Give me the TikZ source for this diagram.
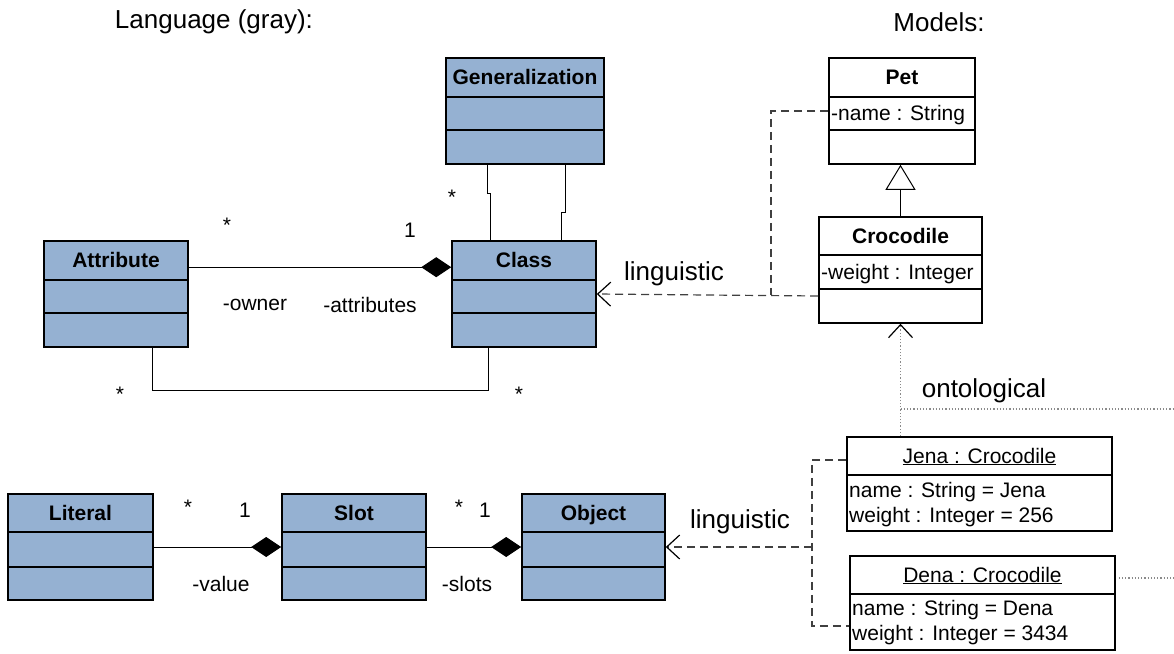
\documentclass[tikz,border=0pt]{standalone}
\usepackage{fontspec}
\setmainfont{Liberation Sans}
\usetikzlibrary{arrows.meta,calc}
\definecolor{umlblue}{HTML}{95B1D2}
\definecolor{dashgray}{HTML}{404040}
\definecolor{dotgray}{HTML}{8A8A8A}
\begin{document}
\begin{tikzpicture}[x=1pt,y=-1pt,
  classbox/.style={draw, line width=1.6pt, rectangle, inner sep=0pt},
  boxline/.style={line width=1.6pt},
  ttl/.style={font=\fontsize{21}{25}\selectfont\bfseries, anchor=base, inner sep=0pt},
  attr/.style={font=\fontsize{21}{25}\selectfont, anchor=base west, inner sep=0pt},
  ttlu/.style={font=\fontsize{21}{25}\selectfont, anchor=base, inner sep=0pt},
  lbl/.style={font=\fontsize{21}{25}\selectfont, inner sep=0pt},
  big/.style={font=\fontsize{26}{30}\selectfont, inner sep=0pt},
  assoc/.style={line width=1pt},
  comp/.style={assoc, -{Diamond[length=30pt,width=20pt]}},
  gen/.style={assoc, -{Triangle[open,length=25pt,width=30pt,fill=white]}},
  lingd/.style={line width=1.2pt, dashgray, dash pattern=on 8pt off 5pt},
  ling/.style={lingd, -{Straight Barb[length=13pt,width=24pt,line width=1.2pt,color=black]}},
  onto/.style={line width=1.2pt, dotgray, dash pattern=on 1.2pt off 2pt}
]
\useasboundingbox (0,0) rectangle (1174,653);

% headers
\node[big] (hlang) at (214,22) {Language (gray):};
\node[big] (hmod) at (939,22) {Models:};

% ---------- language classes ----------
\node[classbox, fill=umlblue, minimum width=158pt, minimum height=106pt] (Gen) at (525,111) {};
\draw[boxline] (Gen.west |- 0,97) -- (Gen.east |- 0,97) (Gen.west |- 0,130) -- (Gen.east |- 0,130);
\node[ttl] at (525,84) {Generalization};

\node[classbox, fill=umlblue, minimum width=144pt, minimum height=106pt] (Class) at (524,294) {};
\draw[boxline] (Class.west |- 0,280) -- (Class.east |- 0,280) (Class.west |- 0,313) -- (Class.east |- 0,313);
\node[ttl] at (524,267) {Class};

\node[classbox, fill=umlblue, minimum width=144pt, minimum height=106pt] (Attribute) at (116,294) {};
\draw[boxline] (Attribute.west |- 0,280) -- (Attribute.east |- 0,280) (Attribute.west |- 0,313) -- (Attribute.east |- 0,313);
\node[ttl] at (116,267) {Attribute};

\node[classbox, fill=umlblue, minimum width=145pt, minimum height=106pt] (Literal) at (80.5,547) {};
\draw[boxline] (Literal.west |- 0,532) -- (Literal.east |- 0,532) (Literal.west |- 0,567) -- (Literal.east |- 0,567);
\node[ttl] at (80.5,520) {Literal};

\node[classbox, fill=umlblue, minimum width=144pt, minimum height=106pt] (Slot) at (354,547) {};
\draw[boxline] (Slot.west |- 0,532) -- (Slot.east |- 0,532) (Slot.west |- 0,567) -- (Slot.east |- 0,567);
\node[ttl] at (354,520) {Slot};

\node[classbox, fill=umlblue, minimum width=143pt, minimum height=106pt] (Object) at (593.5,547) {};
\draw[boxline] (Object.west |- 0,532) -- (Object.east |- 0,532) (Object.west |- 0,567) -- (Object.east |- 0,567);
\node[ttl] at (593.5,520) {Object};

% ---------- model classes ----------
\node[classbox, fill=white, minimum width=146pt, minimum height=106pt] (Pet) at (902,111) {};
\draw[boxline] (Pet.west |- 0,97) -- (Pet.east |- 0,97) (Pet.west |- 0,130) -- (Pet.east |- 0,130);
\node[ttl] at (902,84) {Pet};
\node[attr] at (831,120) {-name : String};

\node[classbox, fill=white, minimum width=163pt, minimum height=106pt] (Crocodile) at (900.5,270) {};
\draw[boxline] (Crocodile.west |- 0,255) -- (Crocodile.east |- 0,255) (Crocodile.west |- 0,289) -- (Crocodile.east |- 0,289);
\node[ttl] at (900.5,243) {Crocodile};
\node[attr] at (821,279) {-weight : Integer};

\node[classbox, fill=white, minimum width=265pt, minimum height=94pt] (Jena) at (979.5,484) {};
\draw[boxline] (Jena.west |- 0,475) -- (Jena.east |- 0,475);
\node[ttlu] at (979.5,463) {\underline{Jena : Crocodile}};
\node[attr] at (849,497) {name : String = Jena};
\node[attr] at (849,522) {weight : Integer = 256};

\node[classbox, fill=white, minimum width=265pt, minimum height=94pt] (Dena) at (982.5,603) {};
\draw[boxline] (Dena.west |- 0,594) -- (Dena.east |- 0,594);
\node[ttlu] at (982.5,582) {\underline{Dena : Crocodile}};
\node[attr] at (852,615) {name : String = Dena};
\node[attr] at (852,640) {weight : Integer = 3434};

% ---------- language connectors ----------
\draw[assoc] ([xshift=-38pt]Gen.south) -- ++(0,29) -- ++(3,0) |- ([xshift=-35pt]Class.north);
\draw[assoc] ([xshift=40pt]Gen.south) -- ++(0,48) -- ++(-4,0) |- ([xshift=37pt]Class.north);
\node[lbl] at (452,197) {*};

\draw[comp] ($(Attribute.north east)+(0,27)$) -- ($(Class.north west)+(0,27)$);
\node[lbl] at (227,225) {*};
\node[lbl] at (410,230) {1};
\node[lbl] at (255,305) {-owner};
\node[lbl] at (370,305) {-attributes};

\draw[assoc] ([xshift=36pt]Attribute.south) -- ++(0,43) -| ([xshift=-36pt]Class.south);
\node[lbl] at (120,394) {*};
\node[lbl] at (519,394) {*};

\draw[comp] (Literal.east) -- (Slot.west);
\node[lbl] at (188,507) {*};
\node[lbl] at (245,510) {1};
\node[lbl] at (221,584) {-value};

\draw[comp] (Slot.east) -- (Object.west);
\node[lbl] at (459,507) {*};
\node[lbl] at (485,510) {1};
\node[lbl] at (467,584) {-slots};

% ---------- model connectors ----------
\draw[gen] (Crocodile.north) -- (Crocodile.north |- Pet.south);

\coordinate (j1) at (771,295);
\draw[ling] ($(Crocodile.west)+(0,26)$) -- (Class.east);
\draw[lingd] (Pet.west) -| (j1);
\node[big] (l1) at (674,274) {linguistic};

\coordinate (j2) at (812,547);
\draw[lingd] ($(Jena.west)+(0,-24)$) -| (j2) |- ($(Dena.west)+(0,23)$);
\draw[ling] (j2) -- (Object.east);
\node[big] (l2) at (740,522) {linguistic};

\coordinate (o1) at (Crocodile.south |- 0,409);
\coordinate (o2) at (1174,409);
\coordinate (o3) at (1174,578);
\draw[onto, -{Straight Barb[length=13pt,width=24pt,line width=1.2pt,color=black]}] (Jena.north -| Crocodile.south) -- (Crocodile.south);
\draw[onto] (o1) -- (o2);
\draw[onto] ([xshift=3pt]Dena.east |- 0,578) -- (o3);
\node[big] (l3) at (984,391) {ontological};
\end{tikzpicture}
\end{document}
